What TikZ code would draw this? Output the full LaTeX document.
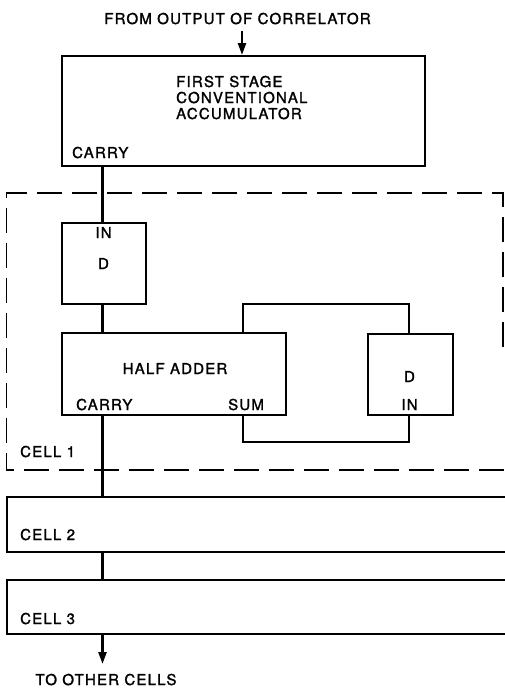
\documentclass[tikz,border=0pt]{standalone}
\usepackage{fontspec}
\setmainfont{TeX Gyre Heros}[LetterSpace=8,FakeBold=1.6]
\usetikzlibrary{arrows.meta}
\begin{document}
\begin{tikzpicture}[x=1pt,y=-1pt,
  box/.style={draw,line width=1.8pt,inner sep=0pt,anchor=north west},
  wire/.style={line width=2.4pt},
  loopwire/.style={line width=2.8pt,line join=miter},
  celledge/.style={line width=1.5pt},
  dashedge/.style={line width=1.6pt,dash pattern=on 25pt off 10pt},
  lbl/.style={inner sep=0pt,anchor=base west,font=\fontsize{15}{17}\selectfont},
  lblc/.style={inner sep=0pt,anchor=base,font=\fontsize{15}{17}\selectfont},
  tip/.style={-{Triangle[length=12pt,width=8pt]}}]
\useasboundingbox (0,0) rectangle (505,689);
% top label and input arrow
\node[lblc] (from) at (237.5,24) {FROM OUTPUT OF CORRELATOR};
\coordinate (inarrow) at (242,31);
% first stage accumulator
\node[box,minimum width=363pt,minimum height=110pt] (acc) at (61,55) {};
\node[lbl] (acctxt) at (176,87) {FIRST STAGE};
\node[lbl] (acctxt2) at (176,103) {CONVENTIONAL};
\node[lbl] (acctxt3) at (176,119) {ACCUMULATOR};
\node[lbl] (acccarry) at (72,158) {CARRY};
\draw[wire,tip] (inarrow) -- (inarrow |- acc.north);
% cell 1 dashed outline
\coordinate (c1tr) at (503,193);
\coordinate (c1tl) at (6.5,193);
\coordinate (c1bl) at (6.5,470);
\coordinate (c1br) at (505,470);
\coordinate (c1re) at (503,347);
\draw[dashedge] (c1re) -- (c1tr) -- (c1tl) -- (c1bl) -- (c1br);
\node[lbl] (cell1) at (20,457) {CELL 1};
% first D box
\node[box,minimum width=84pt,minimum height=81pt] (d1) at (61,222) {};
\node[lblc] (d1in) at (103.5,238) {IN};
\node[lblc] (d1d) at (103.5,269) {D};
% half adder
\node[box,minimum width=224pt,minimum height=82pt] (ha) at (61,332) {};
\node[lblc] (hatxt) at (175,374) {HALF ADDER};
\node[lbl] (hacarry) at (76,410) {CARRY};
\node[lbl] (hasum) at (228,410) {SUM};
% second D box
\node[box,minimum width=85pt,minimum height=81pt] (d2) at (367,333) {};
\node[lblc] (d2d) at (409.5,382) {D};
\node[lblc] (d2in) at (409.5,410) {IN};
% feedback loop
\coordinate (lt1) at (243,304);
\coordinate (lt2) at (409,304);
\coordinate (lb1) at (243,442);
\coordinate (lb2) at (409,442);
\draw[loopwire] (lt1 |- ha.north) -- (lt1) -- (lt2) -- (lt2 |- d2.north);
\draw[loopwire] (lb1 |- ha.south) -- (lb1) -- (lb2) -- (lb2 |- d2.south);
% cells 2 and 3 (open on the right)
\coordinate (c2tr) at (505,497);
\coordinate (c2tl) at (7,497);
\coordinate (c2bl) at (7,552);
\coordinate (c2br) at (505,552);
\draw[celledge] (c2tr) -- (c2tl) -- (c2bl) -- (c2br);
\node[lbl] (cell2) at (20,540) {CELL 2};
\coordinate (c3tr) at (505,580);
\coordinate (c3tl) at (7,580);
\coordinate (c3bl) at (7,634);
\coordinate (c3br) at (505,634);
\draw[celledge] (c3tr) -- (c3tl) -- (c3bl) -- (c3br);
\node[lbl] (cell3) at (20,624) {CELL 3};
% carry chain
\coordinate (x0) at (102.5,0);
\draw[wire] (x0 |- acc.south) -- (x0 |- d1.north);
\draw[wire] (x0 |- d1.south) -- (x0 |- ha.north);
\draw[wire] (x0 |- ha.south) -- (x0 |- c2tl);
\draw[wire] (x0 |- c2bl) -- (x0 |- c3tl);
\coordinate (outarrow) at (102.5,664);
\draw[wire,tip] (x0 |- c3bl) -- (outarrow);
\node[lblc] (toother) at (106,685) {TO OTHER CELLS};
\end{tikzpicture}
\end{document}
